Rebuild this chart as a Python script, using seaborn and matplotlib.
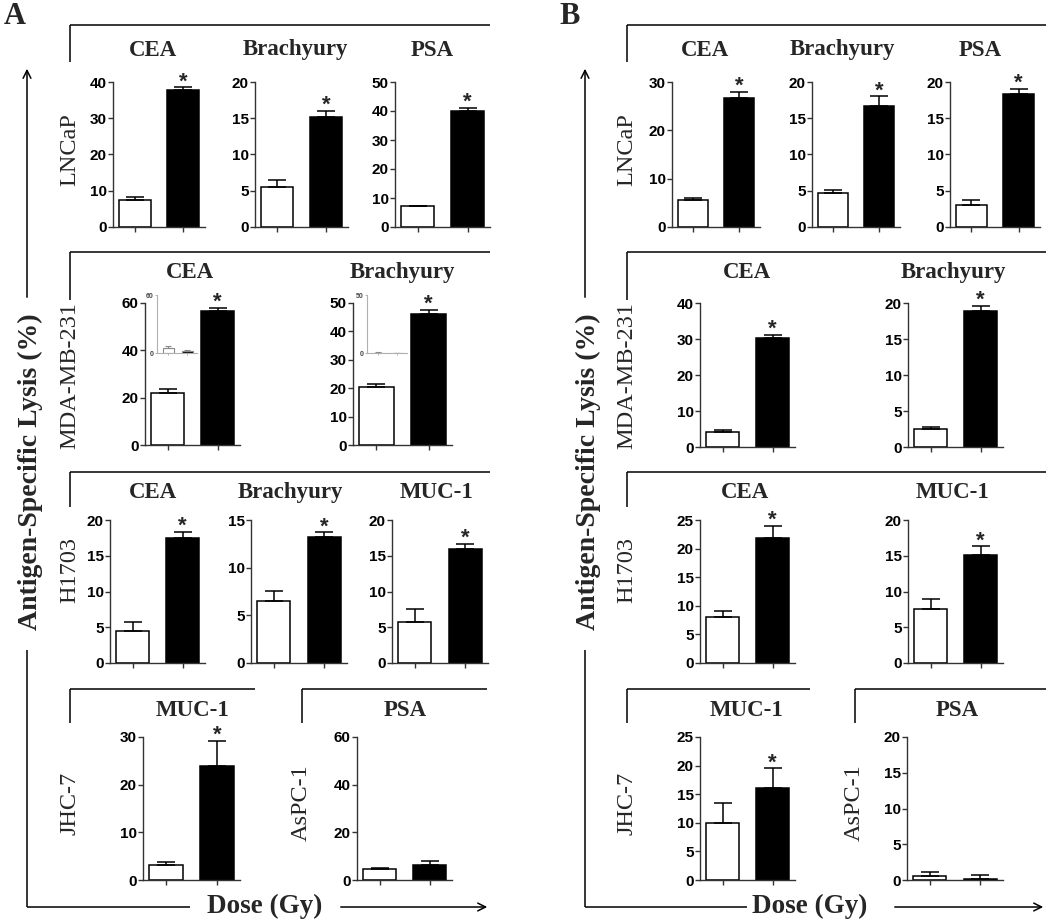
import matplotlib.pyplot as plt
import seaborn as sns
import pandas as pd

sns.set_theme(style="ticks")
plt.rcParams["font.family"] = ["Liberation Sans", "DejaVu Sans"]
SERIF = ["Liberation Serif", "DejaVu Serif"]

W, H = 1050, 921
doses = ["0 Gy", "10 Gy"]

# panel A - antigen-specific lysis (%), [0 Gy, 10 Gy] means and error
a_lncap_cea, a_lncap_cea_err = [7.5, 37.8], [0.8, 0.7]
a_lncap_bra, a_lncap_bra_err = [5.5, 15.2], [1.0, 0.8]
a_lncap_psa, a_lncap_psa_err = [7.2, 40.0], [0.2, 1.0]
a_mda_cea, a_mda_cea_err = [22.0, 56.5], [1.8, 1.5]
a_mda_bra, a_mda_bra_err = [20.3, 46.0], [1.3, 1.7]
a_mda_cea_in, a_mda_cea_in_err = [5.5, 1.8], [2.0, 1.2]
a_mda_bra_in, a_mda_bra_in_err = [0.4, 0.2], [0.3, 0.2]
a_h1703_cea, a_h1703_cea_err = [4.5, 17.5], [1.3, 0.8]
a_h1703_bra, a_h1703_bra_err = [6.5, 13.2], [1.1, 0.5]
a_h1703_muc, a_h1703_muc_err = [5.8, 16.0], [1.8, 0.7]
a_jhc_muc, a_jhc_muc_err = [3.2, 24.0], [0.6, 5.2]
a_aspc_psa, a_aspc_psa_err = [4.5, 6.2], [0.7, 1.6]

# panel B
b_lncap_cea, b_lncap_cea_err = [5.6, 26.6], [0.4, 1.3]
b_lncap_bra, b_lncap_bra_err = [4.7, 16.7], [0.4, 1.3]
b_lncap_psa, b_lncap_psa_err = [3.1, 18.3], [0.6, 0.7]
b_mda_cea, b_mda_cea_err = [4.3, 30.2], [0.5, 1.0]
b_mda_bra, b_mda_bra_err = [2.5, 18.9], [0.3, 0.7]
b_h1703_cea, b_h1703_cea_err = [8.1, 21.9], [1.0, 2.1]
b_h1703_muc, b_h1703_muc_err = [7.6, 15.1], [1.3, 1.2]
b_jhc_muc, b_jhc_muc_err = [10.0, 16.0], [3.4, 3.5]
b_aspc_psa, b_aspc_psa_err = [0.5, 0.2], [0.6, 0.5]

fig = plt.figure(figsize=(W / 100, H / 100), dpi=100)


def frac(x0, x1, y0, y1):
    # pixel box (left, right, top, bottom) -> figure fraction
    return [x0 / W, 1 - y1 / H, (x1 - x0) / W, (y1 - y0) / H]


def bar_panel(box, means, errs, ymax, step, star=True):
    ax = fig.add_axes(frac(*box))
    df = pd.DataFrame({"dose": doses, "lysis": means})
    sns.barplot(data=df, x="dose", y="lysis", hue="dose", palette=["white", "black"],
                edgecolor="black", linewidth=1.1, width=0.66, legend=False, ax=ax)
    ax.errorbar([0, 1], means, yerr=[[0, 0], errs], fmt="none", ecolor="black",
                elinewidth=1.1, capsize=6.5, capthick=1.1)
    ax.set_xlim(-0.45, 1.45)
    ax.set_ylim(0, ymax)
    ticks = list(range(0, ymax + 1, step))
    ax.set_yticks(ticks, [str(t) for t in ticks], fontsize=11, fontweight="bold")
    ax.set_xticks([0, 1], ["", ""])
    ax.set_xlabel("")
    ax.set_ylabel("")
    ax.tick_params(length=3.5, width=1, pad=1, color="#333", labelcolor="black")
    sns.despine(ax=ax)
    for s in ["left", "bottom"]:
        ax.spines[s].set_linewidth(1)
        ax.spines[s].set_color("#333")
    if star:
        ax.annotate("*", (1, means[1] + errs[1]), xytext=(0, -3.5), textcoords="offset points",
                    ha="center", va="bottom", fontsize=16, fontweight="bold")
    return ax


def inset_panel(box, means, errs, ymax):
    ax = fig.add_axes(frac(*box))
    df = pd.DataFrame({"dose": doses, "lysis": means})
    sns.barplot(data=df, x="dose", y="lysis", hue="dose", palette=["white", "black"],
                edgecolor="#8a8a8a", linewidth=0.8, width=0.6, legend=False, ax=ax)
    ax.errorbar([0, 1], means, yerr=[[0, 0], errs], fmt="none", ecolor="#8a8a8a",
                elinewidth=0.8, capsize=2, capthick=0.8)
    ax.set_xlim(-0.6, 1.5)
    ax.set_ylim(0, ymax)
    ax.set_yticks([0, ymax], ["0", str(ymax)], fontsize=5, fontweight="bold")
    ax.set_xticks([0, 1], ["", ""])
    ax.set_xlabel("")
    ax.set_ylabel("")
    ax.tick_params(length=1.5, width=0.6, pad=1, color="#aaa", labelcolor="#444")
    sns.despine(ax=ax)
    for s in ["left", "bottom"]:
        ax.spines[s].set_linewidth(0.8)
        ax.spines[s].set_color("#b0b0b0")
    ax.patch.set_alpha(0)


# ---------- panel A ----------
bar_panel((113, 205, 82, 227), a_lncap_cea, a_lncap_cea_err, 40, 10)
bar_panel((255, 348, 82, 227), a_lncap_bra, a_lncap_bra_err, 20, 5)
bar_panel((395, 490, 82, 227), a_lncap_psa, a_lncap_psa_err, 50, 10)
bar_panel((145, 240, 303, 445), a_mda_cea, a_mda_cea_err, 60, 20)
bar_panel((353, 452, 303, 445), a_mda_bra, a_mda_bra_err, 50, 10)
inset_panel((157, 197, 295, 353), a_mda_cea_in, a_mda_cea_in_err, 60)
inset_panel((367, 407, 295, 353), a_mda_bra_in, a_mda_bra_in_err, 50)
bar_panel((110, 205, 520, 663), a_h1703_cea, a_h1703_cea_err, 20, 5)
bar_panel((251, 347, 520, 663), a_h1703_bra, a_h1703_bra_err, 15, 5)
bar_panel((392, 488, 520, 663), a_h1703_muc, a_h1703_muc_err, 20, 5)
bar_panel((143, 240, 737, 880), a_jhc_muc, a_jhc_muc_err, 30, 10)
bar_panel((357, 452, 737, 880), a_aspc_psa, a_aspc_psa_err, 60, 20, star=False)

# ---------- panel B ----------
bar_panel((672, 760, 82, 227), b_lncap_cea, b_lncap_cea_err, 30, 10)
bar_panel((812, 900, 82, 227), b_lncap_bra, b_lncap_bra_err, 20, 5)
bar_panel((950, 1040, 82, 227), b_lncap_psa, b_lncap_psa_err, 20, 5)
bar_panel((700, 795, 303, 447), b_mda_cea, b_mda_cea_err, 40, 10)
bar_panel((908, 1003, 303, 447), b_mda_bra, b_mda_bra_err, 20, 5)
bar_panel((700, 795, 520, 663), b_h1703_cea, b_h1703_cea_err, 25, 5)
bar_panel((908, 1003, 520, 663), b_h1703_muc, b_h1703_muc_err, 20, 5)
bar_panel((700, 795, 737, 880), b_jhc_muc, b_jhc_muc_err, 25, 5)
bar_panel((907, 1003, 737, 880), b_aspc_psa, b_aspc_psa_err, 20, 5, star=False)

# ---------- overlay: brackets, labels, arrows ----------
ov = fig.add_axes([0, 0, 1, 1])
ov.set_xlim(0, W)
ov.set_ylim(H, 0)
ov.axis("off")
lk = dict(color="black", lw=1.1, solid_capstyle="butt")


def bracket(x0, x1, y, y_end):
    ov.plot([x0, x1], [y, y], **lk)
    ov.plot([x0, x0], [y, y_end], **lk)


def title(x, y, s):
    ov.text(x, y, s, ha="center", va="center", fontsize=16.5, fontweight="bold", family=SERIF)


def row_label(x, y, s):
    ov.text(x, y, s, ha="center", va="center", rotation=90, fontsize=17.5, family=SERIF)


for dx, right in [(0, 490), (557, 1046)]:
    bracket(70 + dx, right, 25, 62)
    bracket(70 + dx, right, 252, 300)
    bracket(70 + dx, right, 472, 507)

bracket(70, 255, 689, 723)
bracket(302, 487, 689, 723)
bracket(627, 810, 689, 723)
bracket(855, 1046, 689, 723)

for x, s in [(153, "CEA"), (295, "Brachyury"), (432, "PSA"),
             (705, "CEA"), (842, "Brachyury"), (980, "PSA")]:
    title(x, 50, s)
for x, s in [(190, "CEA"), (402, "Brachyury"), (747, "CEA"), (953, "Brachyury")]:
    title(x, 272, s)
for x, s in [(153, "CEA"), (290, "Brachyury"), (437, "MUC-1"), (745, "CEA"), (953, "MUC-1")]:
    title(x, 492, s)
for x, s in [(193, "MUC-1"), (405, "PSA"), (747, "MUC-1"), (957, "PSA")]:
    title(x, 710, s)

for x in (70, 627):
    row_label(x, 150, "LNCaP")
    row_label(x, 375, "MDA-MB-231")
    row_label(x, 570, "H1703")
    row_label(x, 803, "JHC-7")
row_label(301, 803, "AsPC-1")
row_label(854, 803, "AsPC-1")

ov.text(15, 17, "A", ha="center", va="center", fontsize=22, fontweight="bold", family=SERIF)
ov.text(570, 17, "B", ha="center", va="center", fontsize=22, fontweight="bold", family=SERIF)

for xv, xd, xg0, xg1, xend in [(27, 265, 190, 338, 490), (585, 810, 747, 892, 1046)]:
    ov.text(xv + 3, 472, "Antigen-Specific Lysis (%)", ha="center", va="center", rotation=90,
            fontsize=20, fontweight="bold", family=SERIF)
    ov.plot([xv, xv], [907, 650], **lk)
    ov.annotate("", xy=(xv, 66), xytext=(xv, 300),
                arrowprops=dict(arrowstyle="->", lw=1.1, color="black", mutation_scale=14))
    ov.text(xd, 906, "Dose (Gy)", ha="center", va="center", fontsize=19.5,
            fontweight="bold", family=SERIF)
    ov.plot([xv, xg0], [907, 907], **lk)
    ov.annotate("", xy=(xend, 907), xytext=(xg1, 907),
                arrowprops=dict(arrowstyle="->", lw=1.1, color="black", mutation_scale=14))

fig.savefig("out.png", dpi=100)
